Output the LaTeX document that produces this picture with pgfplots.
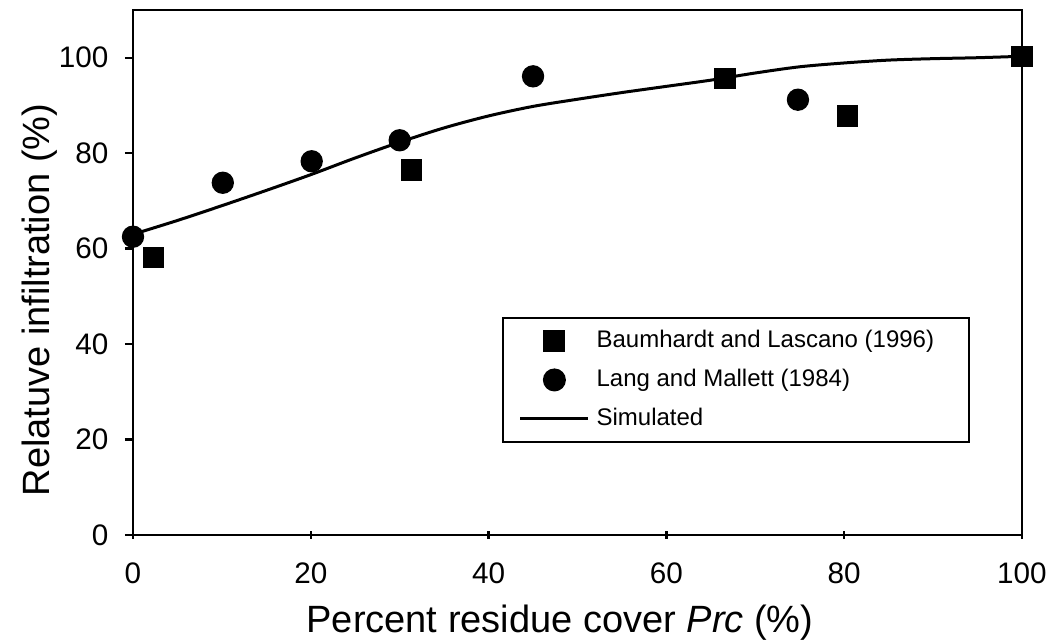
\documentclass[border=0pt]{standalone}
\usepackage{fontspec}
\setmainfont{Liberation Sans}
\usepackage{pgfplots}
\pgfplotsset{compat=1.18}
\pgfplotsset{
  markleg/.style={legend image code/.code={\draw[##1,mark repeat=2,mark phase=2] plot coordinates {(0pt,0pt)(10.2pt,0pt)(20.4pt,0pt)};}},
  lineleg/.style={legend image code/.code={\draw[##1] (0pt,0pt) -- (20.4pt,0pt);}},
}
\begin{document}
\begin{tikzpicture}
\useasboundingbox (-39.9pt,-31.8pt) rectangle (277.2pt,160.5pt);
\begin{axis}[
  at={(0,0)}, anchor=south west,
  scale only axis,
  width=266.7pt, height=157.5pt,
  xmin=0, xmax=100, ymin=0, ymax=110,
  xtick={0,20,40,60,80,100},
  ytick={0,20,40,60,80,100},
  xtick pos=bottom, ytick pos=left,
  xtick align=center, ytick align=outside,
  major tick length=2.4pt,
  tick style={black, line width=0.7pt},
  axis line style={line width=0.8pt},
  /pgf/number format/assume math mode=true,
  tick label style={font=\fontsize{8.9}{10}\selectfont, inner sep=0pt},
  xticklabel style={anchor=center, yshift=-10.2pt},
  yticklabel style={anchor=east, xshift=-4.8pt},
  clip=false,
  xlabel={Percent residue cover \textit{Prc} (\%)},
  ylabel={Relatuve infiltration (\%)},
  every axis x label/.style={at={(axis description cs:0.4803,0)}, anchor=base, yshift=-29.4pt, font=\fontsize{11.4}{13}\selectfont},
  every axis y label/.style={at={(axis description cs:0,0.4476)}, anchor=base, rotate=90, yshift=24.9pt, font=\fontsize{11.4}{13}\selectfont},
  legend style={at={(axis description cs:0.415,0.415)}, anchor=north west,
    draw=black, line width=0.6pt, font=\fontsize{7.2}{8.6}\selectfont,
    inner xsep=4.8pt, inner ysep=1pt, row sep=0pt,
    nodes={minimum height=11.7pt, inner ysep=0pt}},
  legend cell align=left,
]
\addplot[only marks, mark=square*, mark size=3pt, black, markleg]
  coordinates {(2.3,58.1) (31.3,76.5) (66.6,95.7) (80.4,87.8) (100,100.3)};
\addlegendentry{Baumhardt and Lascano (1996)\rule{3.6pt}{0pt}}
\addplot[only marks, mark=*, mark size=3.15pt, black, markleg]
  coordinates {(0,62.5) (10.1,73.8) (20.1,78.3) (30,82.7) (45,96.1) (74.8,91.2)};
\addlegendentry{Lang and Mallett (1984)}
\addplot[black, line width=0.9pt, smooth, no marks, lineleg]
  coordinates {(0,63.0) (5,65.9) (10,69.0) (15,72.2) (20,75.5) (25,79.0) (30,82.3) (35,85.3) (40,87.8) (45,89.8) (50,91.3) (55,92.7) (60,94.0) (65,95.3) (70,96.8) (75,98.1) (80,98.9) (85,99.5) (90,99.8) (95,100.0) (100,100.3)};
\addlegendentry{Simulated}
\end{axis}
\end{tikzpicture}
\end{document}
